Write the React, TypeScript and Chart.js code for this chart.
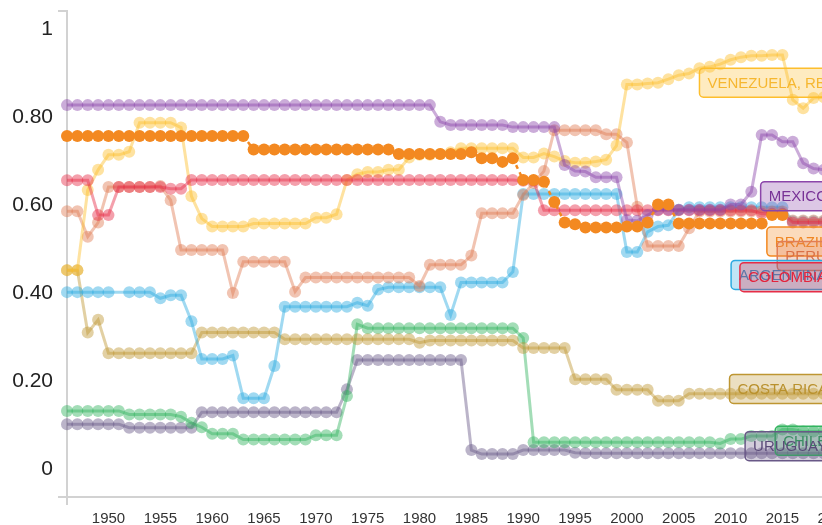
import React, { useEffect, useRef } from "react";
import { Chart, registerables } from "chart.js";

Chart.register(...registerables);

// ---------- DATA ----------
const years = [
  1946, 1947, 1948, 1949, 1950, 1951, 1952, 1953, 1954, 1955,
  1956, 1957, 1958, 1959, 1960, 1961, 1962, 1963, 1964, 1965,
  1966, 1967, 1968, 1969, 1970, 1971, 1972, 1973, 1974, 1975,
  1976, 1977, 1978, 1979, 1980, 1981, 1982, 1983, 1984, 1985,
  1986, 1987, 1988, 1989, 1990, 1991, 1992, 1993, 1994, 1995,
  1996, 1997, 1998, 1999, 2000, 2001, 2002, 2003, 2004, 2005,
  2006, 2007, 2008, 2009, 2010, 2011, 2012, 2013, 2014, 2015,
  2016, 2017, 2018, 2019,
];

const xTicks = [1950, 1955, 1960, 1965, 1970, 1975, 1980, 1985, 1990, 1995, 2000, 2005, 2010, 2015, 2020];
const yTicks = [0, 0.2, 0.4, 0.6, 0.8, 1];

const brazil = [
  0.757, 0.757, 0.757, 0.757, 0.757, 0.757, 0.757, 0.757, 0.757, 0.757,
  0.757, 0.757, 0.757, 0.757, 0.757, 0.757, 0.757, 0.757, 0.726, 0.726,
  0.726, 0.726, 0.726, 0.726, 0.726, 0.726, 0.726, 0.726, 0.726, 0.726,
  0.726, 0.726, 0.716, 0.716, 0.716, 0.716, 0.716, 0.716, 0.716, 0.720,
  0.706, 0.706, 0.698, 0.706, 0.657, 0.657, 0.653, 0.607, 0.560, 0.556,
  0.549, 0.549, 0.549, 0.549, 0.551, 0.551, 0.560, 0.601, 0.601, 0.558,
  0.558, 0.558, 0.558, 0.558, 0.558, 0.558, 0.558, 0.558, 0.577, 0.577,
  null, null, null, null,
];

const mexico = [
  0.827, 0.827, 0.827, 0.827, 0.827, 0.827, 0.827, 0.827, 0.827, 0.827,
  0.827, 0.827, 0.827, 0.827, 0.827, 0.827, 0.827, 0.827, 0.827, 0.827,
  0.827, 0.827, 0.827, 0.827, 0.827, 0.827, 0.827, 0.827, 0.827, 0.827,
  0.827, 0.827, 0.827, 0.827, 0.827, 0.827, 0.789, 0.782, 0.782, 0.782,
  0.782, 0.782, 0.782, 0.777, 0.777, 0.777, 0.777, 0.777, 0.691, 0.677,
  0.676, 0.663, 0.663, 0.663, 0.566, 0.564, 0.577, 0.589, 0.589, 0.589,
  0.589, 0.589, 0.589, 0.589, 0.601, 0.601, 0.630, 0.759, 0.759, 0.744,
  0.744, 0.695, 0.683, 0.680,
];

const colombia = [
  0.656, 0.656, 0.656, 0.577, 0.577, 0.641, 0.641, 0.641, 0.641, 0.641,
  0.637, 0.637, 0.657, 0.657, 0.657, 0.657, 0.657, 0.657, 0.657, 0.657,
  0.657, 0.657, 0.657, 0.657, 0.657, 0.657, 0.657, 0.657, 0.657, 0.657,
  0.657, 0.657, 0.657, 0.657, 0.657, 0.657, 0.657, 0.657, 0.657, 0.657,
  0.657, 0.657, 0.657, 0.657, 0.655, 0.655, 0.588, 0.588, 0.588, 0.588,
  0.588, 0.588, 0.588, 0.588, 0.588, 0.588, 0.588, 0.588, 0.588, 0.588,
  0.588, 0.588, 0.588, 0.588, 0.588, 0.588, 0.588, 0.580, 0.580, 0.580,
  0.560, 0.560, 0.560, 0.560,
];

const venezuela = [
  0.452, 0.452, 0.634, 0.680, 0.714, 0.714, 0.721, 0.787, 0.787, 0.787,
  0.787, 0.776, 0.620, 0.569, 0.551, 0.551, 0.551, 0.551, 0.558, 0.558,
  0.558, 0.558, 0.558, 0.558, 0.571, 0.571, 0.579, 0.657, 0.670, 0.675,
  0.675, 0.680, 0.680, 0.708, 0.714, 0.714, 0.716, 0.720, 0.729, 0.729,
  0.729, 0.729, 0.729, 0.729, 0.708, 0.708, 0.717, 0.710, 0.700, 0.696,
  0.696, 0.699, 0.703, 0.735, 0.874, 0.874, 0.876, 0.878, 0.886, 0.895,
  0.899, 0.911, 0.914, 0.920, 0.930, 0.936, 0.939, 0.939, 0.941, 0.941,
  0.839, 0.820, 0.843, 0.845,
];

const peru = [
  0.586, 0.586, 0.528, 0.560, 0.641, 0.641, 0.641, 0.641, 0.641, 0.643,
  0.611, 0.498, 0.498, 0.498, 0.498, 0.498, 0.400, 0.471, 0.471, 0.471,
  0.471, 0.471, 0.403, 0.435, 0.435, 0.435, 0.435, 0.435, 0.435, 0.435,
  0.435, 0.435, 0.435, 0.435, 0.416, 0.464, 0.464, 0.464, 0.464, 0.485,
  0.581, 0.581, 0.581, 0.581, 0.623, 0.650, 0.677, 0.770, 0.770, 0.770,
  0.770, 0.770, 0.761, 0.761, 0.742, 0.596, 0.507, 0.507, 0.507, 0.507,
  0.547, 0.585, 0.585, 0.585, 0.585, 0.585, 0.585, 0.585, 0.585, 0.585,
  0.565, 0.565, 0.565, 0.565,
];

const argentina = [
  0.402, 0.402, 0.402, 0.402, 0.402, null, 0.402, 0.402, 0.402, 0.388,
  0.395, 0.395, 0.336, 0.250, 0.250, 0.250, 0.258, 0.161, 0.161, 0.161,
  0.234, 0.369, 0.369, 0.369, 0.369, 0.369, 0.369, 0.369, 0.378, 0.371,
  0.408, 0.413, 0.413, 0.413, 0.413, 0.413, 0.413, 0.350, 0.424, 0.424,
  0.424, 0.424, 0.424, 0.448, 0.625, 0.625, 0.625, 0.625, 0.625, 0.625,
  0.625, 0.625, 0.625, 0.625, 0.493, 0.493, 0.539, 0.551, 0.554, 0.589,
  0.595, 0.595, 0.595, 0.595, 0.595, 0.595, 0.595, 0.595, 0.595, 0.595,
  0.563, 0.563, 0.563, 0.563,
];

const costaRica = [
  0.452, 0.452, 0.310, 0.339, 0.263, 0.263, 0.263, 0.263, 0.263, 0.263,
  0.263, 0.263, 0.263, 0.310, 0.310, 0.310, 0.310, 0.310, 0.310, 0.310,
  0.310, 0.295, 0.295, 0.295, 0.295, 0.295, 0.295, 0.295, 0.295, 0.295,
  0.295, 0.295, 0.295, 0.295, 0.287, 0.292, 0.292, 0.292, 0.292, 0.292,
  0.292, 0.292, 0.292, 0.292, 0.275, 0.275, 0.275, 0.275, 0.275, 0.204,
  0.204, 0.204, 0.204, 0.180, 0.180, 0.180, 0.180, 0.155, 0.155, 0.155,
  0.171, 0.171, 0.171, 0.171, 0.171, 0.171, 0.171, 0.171, 0.171, 0.171,
  0.171, 0.171, 0.171, 0.171,
];

const chile = [
  0.132, 0.132, 0.132, 0.132, 0.132, 0.132, 0.124, 0.124, 0.124, 0.124,
  0.124, 0.119, 0.105, 0.095, 0.080, 0.080, 0.080, 0.067, 0.067, 0.067,
  0.067, 0.067, 0.067, 0.067, 0.077, 0.077, 0.077, 0.166, 0.329, 0.320,
  0.320, 0.320, 0.320, 0.320, 0.320, 0.320, 0.320, 0.320, 0.320, 0.320,
  0.320, 0.320, 0.320, 0.320, 0.298, 0.061, 0.061, 0.061, 0.061, 0.061,
  0.061, 0.061, 0.061, 0.061, 0.061, 0.061, 0.061, 0.061, 0.061, 0.061,
  0.061, 0.061, 0.061, 0.058, 0.068, 0.068, 0.075, 0.075, 0.075, 0.090,
  0.090, 0.085, 0.085, 0.085,
];

const uruguay = [
  0.102, 0.102, 0.102, 0.102, 0.102, 0.102, 0.094, 0.094, 0.094, 0.094,
  0.094, 0.094, 0.094, 0.129, 0.129, 0.129, 0.129, 0.129, 0.129, 0.129,
  0.129, 0.129, 0.129, 0.129, 0.129, 0.129, 0.129, 0.181, 0.248, 0.248,
  0.248, 0.248, 0.248, 0.248, 0.248, 0.248, 0.248, 0.248, 0.248, 0.043,
  0.034, 0.034, 0.034, 0.034, 0.043, 0.043, 0.043, 0.043, 0.043, 0.037,
  0.036, 0.036, 0.036, 0.036, 0.036, 0.036, 0.036, 0.036, 0.036, 0.036,
  0.036, 0.036, 0.036, 0.036, 0.036, 0.036, 0.036, 0.036, 0.036, 0.036,
  0.036, 0.036, 0.036, 0.036,
];

// ---------- STYLE ----------
const FONT = "'Liberation Sans', Arial, Helvetica, sans-serif";

type Series = {
  key: string;
  values: (number | null)[];
  rgb: [number, number, number];
  text: string;
  highlight?: boolean;
};

// drawn order: first in list is drawn on top
const series: Series[] = [
  { key: "BRAZIL", values: brazil, rgb: [243, 137, 33], text: "rgb(240,135,35)", highlight: true },
  { key: "MEXICO", values: mexico, rgb: [140, 70, 170], text: "rgb(120,50,150)" },
  { key: "COLOMBIA", values: colombia, rgb: [230, 45, 70], text: "rgb(228,35,60)" },
  { key: "VENEZUELA", values: venezuela, rgb: [253, 190, 45], text: "rgb(246,183,48)" },
  { key: "PERU", values: peru, rgb: [225, 125, 85], text: "rgb(218,112,70)" },
  { key: "ARGENTINA", values: argentina, rgb: [45, 170, 225], text: "rgb(35,150,210)" },
  { key: "COSTA RICA", values: costaRica, rgb: [190, 150, 50], text: "rgb(185,145,45)" },
  { key: "CHILE", values: chile, rgb: [50, 180, 95], text: "rgb(40,165,85)" },
  { key: "URUGUAY", values: uruguay, rgb: [105, 88, 135], text: "rgb(90,75,120)" },
];

// label boxes: series key, text, left year, centre value; later ones drawn on top
const labelKeys = ["VENEZUELA", "MEXICO", "BRAZIL", "PERU", "ARGENTINA", "COLOMBIA", "COSTA RICA", "CHILE", "URUGUAY"];
const labelTexts = ["VENEZUELA, RB", "MEXICO", "BRAZIL", "PERU", "ARGENTINA", "COLOMBIA", "COSTA RICA", "CHILE", "URUGUAY"];
const labelYears = [2007.0, 2012.9, 2013.5, 2014.5, 2010.05, 2010.9, 2009.9, 2014.3, 2011.4];
const labelValues = [0.878, 0.62, 0.517, 0.484, 0.441, 0.436, 0.182, 0.064, 0.052];

const rgba = (c: [number, number, number], a: number) => `rgba(${c[0]},${c[1]},${c[2]},${a})`;

function roundRectPath(ctx: CanvasRenderingContext2D, x: number, y: number, w: number, h: number, r: number) {
  ctx.beginPath();
  ctx.moveTo(x + r, y);
  ctx.lineTo(x + w - r, y);
  ctx.arcTo(x + w, y, x + w, y + r, r);
  ctx.lineTo(x + w, y + h - r);
  ctx.arcTo(x + w, y + h, x + w - r, y + h, r);
  ctx.lineTo(x + r, y + h);
  ctx.arcTo(x, y + h, x, y + h - r, r);
  ctx.lineTo(x, y + r);
  ctx.arcTo(x, y, x + r, y, r);
  ctx.closePath();
}

const axisPlugin = {
  id: "axisLines",
  beforeDatasetsDraw(chart: any) {
    const { ctx, chartArea } = chart;
    const { left, top, bottom, right } = chartArea;
    ctx.save();
    ctx.strokeStyle = "#d2d2d2";
    ctx.lineWidth = 2;
    ctx.beginPath();
    ctx.moveTo(left - 9, top);
    ctx.lineTo(left, top);
    ctx.lineTo(left, bottom + 8);
    ctx.moveTo(left - 9, bottom);
    ctx.lineTo(right, bottom);
    ctx.stroke();
    ctx.restore();
  },
};

const labelPlugin = {
  id: "seriesLabels",
  afterDatasetsDraw(chart: any) {
    const { ctx } = chart;
    const xs = chart.scales.x;
    const ys = chart.scales.y;
    ctx.save();
    ctx.font = `15px ${FONT}`;
    ctx.textBaseline = "middle";
    ctx.textAlign = "left";
    labelKeys.forEach((key, i) => {
      const s = series.find((d) => d.key === key)!;
      const x = xs.getPixelForValue(labelYears[i]);
      const yc = ys.getPixelForValue(labelValues[i]);
      const w = ctx.measureText(labelTexts[i]).width + 16;
      const h = 29;
      roundRectPath(ctx, x, yc - h / 2, w, h, 4);
      ctx.fillStyle = rgba(s.rgb, 0.3);
      ctx.fill();
      ctx.lineWidth = 1.5;
      ctx.strokeStyle = rgba(s.rgb, 1);
      ctx.stroke();
      ctx.fillStyle = s.text;
      ctx.fillText(labelTexts[i], x + 8, yc + 1);
    });
    ctx.restore();
  },
};

export default function App() {
  const canvasRef = useRef<HTMLCanvasElement | null>(null);

  useEffect(() => {
    if (!canvasRef.current) return;
    const datasets = series.map((s) => {
      const solid = rgba(s.rgb, 1);
      const soft = rgba(s.rgb, 0.45);
      return {
        label: s.key,
        data: years.map((yr, i) => ({ x: yr, y: s.values[i] })),
        borderColor: s.highlight ? solid : soft,
        backgroundColor: s.highlight ? solid : soft,
        pointBackgroundColor: s.highlight ? solid : soft,
        pointBorderWidth: 0,
        pointRadius: 6,
        pointHoverRadius: 6,
        borderWidth: s.highlight ? 2.5 : 3,
        borderDash: s.highlight ? [4, 4] : [],
        tension: 0,
        spanGaps: true,
        clip: false as any,
      };
    });

    const chart = new Chart(canvasRef.current, {
      type: "line",
      data: { datasets: datasets as any },
      options: {
        animation: false,
        responsive: false,
        devicePixelRatio: 1,
        events: [],
        layout: { autoPadding: false, padding: { left: 0, right: 0, top: 11, bottom: 0 } },
        plugins: {
          legend: { display: false },
          tooltip: { enabled: false },
          title: { display: false },
        },
        scales: {
          x: {
            type: "linear",
            min: 1946,
            max: 2022,
            grid: { display: false, drawTicks: false },
            border: { display: false },
            afterFit: (scale: any) => {
              scale.height = 28;
              scale.paddingLeft = 0;
              scale.paddingRight = 0;
            },
            afterBuildTicks: (scale: any) => {
              scale.ticks = xTicks.map((value) => ({ value }));
            },
            ticks: {
              padding: 13,
              autoSkip: false,
              maxRotation: 0,
              color: "#333",
              font: { family: FONT, size: 15 },
              callback: (v: any) => String(v),
            },
          },
          y: {
            type: "linear",
            min: -0.0636,
            max: 1.0409,
            grid: { display: false, drawTicks: false },
            border: { display: false },
            afterFit: (scale: any) => {
              scale.width = 67;
              scale.paddingTop = 0;
              scale.paddingBottom = 0;
            },
            afterBuildTicks: (scale: any) => {
              scale.ticks = yTicks.map((value) => ({ value }));
            },
            ticks: {
              padding: 14,
              color: "#222",
              font: { family: FONT, size: 21 },
              callback: (v: any) => (v === 0 ? "0" : v === 1 ? "1" : Number(v).toFixed(2)),
            },
          },
        },
      },
      plugins: [axisPlugin, labelPlugin],
    });
    return () => chart.destroy();
  }, []);

  return (
    <div
      style={{
        position: "fixed",
        left: 0,
        top: 0,
        width: 822,
        height: 525,
        overflow: "hidden",
        background: "#fff",
      }}
    >
      <canvas ref={canvasRef} width={855} height={525} style={{ display: "block", width: 855, height: 525 }} />
    </div>
  );
}
